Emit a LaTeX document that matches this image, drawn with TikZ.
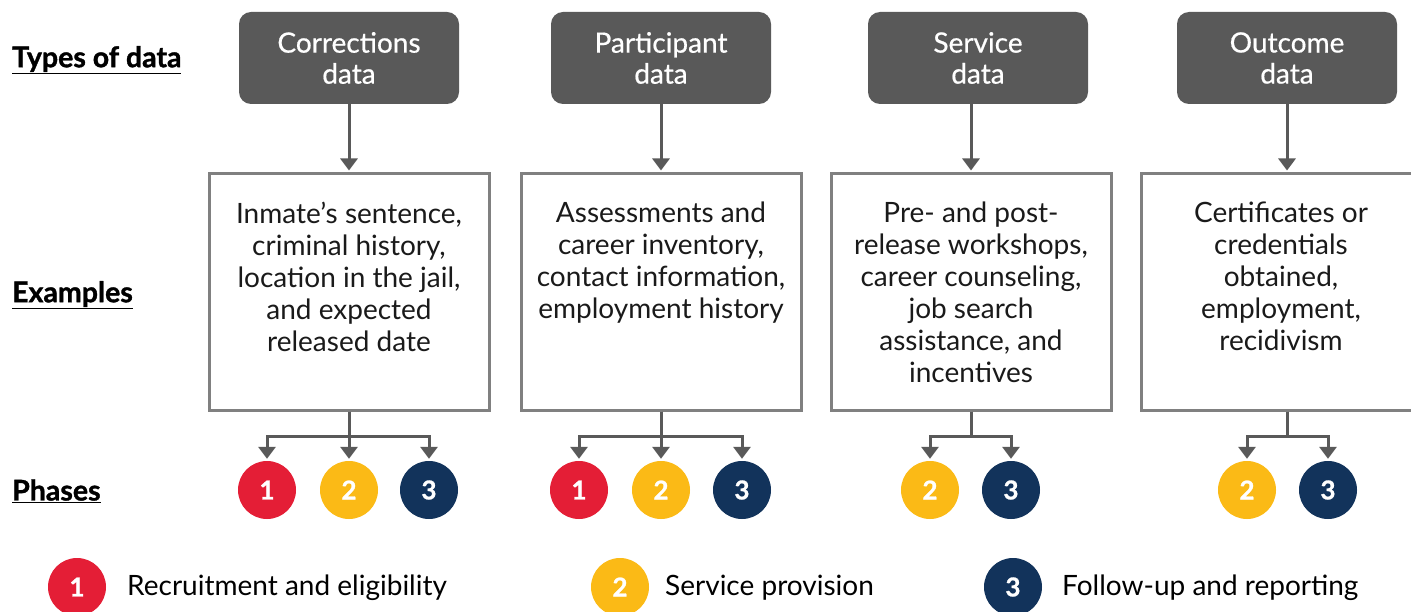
\documentclass[tikz,border=0pt]{standalone}
\usepackage{fontspec}
\setmainfont{Lato}
\newfontfamily\hdrfont[FakeBold=0.6]{Lato}
\newfontfamily\lblfont[FakeBold=1.2]{Lato Bold}
\newfontfamily\numfont[FakeBold=1]{Lato Bold}
\usetikzlibrary{arrows.meta}
\definecolor{hdrgray}{HTML}{595959}
\definecolor{boxgray}{HTML}{808080}
\definecolor{arrgray}{HTML}{595959}
\definecolor{txt}{HTML}{1A1A1A}
\definecolor{pred}{HTML}{E41E36}
\definecolor{pyel}{HTML}{FBBA16}
\definecolor{pnavy}{HTML}{12335B}
\tikzset{
  hdr/.style={rectangle, rounded corners=12pt, fill=hdrgray, text=white, minimum width=220pt, minimum height=92pt, align=center, inner sep=0pt, font=\fontsize{28}{31}\hdrfont},
  exbox/.style={rectangle, draw=boxgray, line width=3pt, minimum width=280pt, minimum height=236pt, inner sep=0pt},
  extext/.style={anchor=north, align=center, inner sep=0pt, text=txt, font=\fontsize{28}{32}\selectfont},
  phase/.style={circle, minimum size=58pt, inner sep=0pt, text=white, font=\fontsize{26}{26}\numfont},
  p1/.style={phase, fill=pred},
  p2/.style={phase, fill=pyel},
  p3/.style={phase, fill=pnavy},
  rowlabel/.style={anchor=west, inner sep=0pt, text=black, font=\fontsize{28.5}{30}\lblfont},
  legtext/.style={anchor=west, inner sep=0pt, text=black, font=\fontsize{28}{30}\selectfont},
  arr/.style={draw=arrgray, line width=3pt, -{Triangle[length=12pt,width=17pt]}, shorten >=2pt},
}
\begin{document}
\begin{tikzpicture}[x=1pt,y=-1pt]
\clip (0,0) rectangle (1411,612);
\fill[white] (0,0) rectangle (1411,612);

% row labels
\node[rowlabel] (lt) at (12,60) {\underline{Types of data}};
\node[rowlabel] (le) at (12,295) {\underline{Examples}};
\node[rowlabel] (lp) at (12,491) {\underline{Phases}};

% headers
\node[hdr] (h1) at (349,58) {Corrections\\data};
\node[hdr] (h2) at (661,58) {Participant\\data};
\node[hdr] (h3) at (978,58) {Service\\data};
\node[hdr] (h4) at (1287,58) {Outcome\\data};

% example boxes
\node[exbox] (b1) at (349,292) {};
\node[exbox] (b2) at (661,292) {};
\node[exbox] (b3) at (971,292) {};
\node[exbox] (b4) at (1281,292) {};

\node[extext] (t1) at (349,202) {Inmate’s sentence,\\criminal history,\\location in the jail,\\and expected\\released date};
\node[extext] (t2) at (661,202) {Assessments and\\career inventory,\\contact information,\\employment history};
\node[extext] (t3) at (971,202) {Pre- and post-\\release workshops,\\career counseling,\\job search\\assistance, and\\incentives};
\node[extext] (t4) at (1281,202) {Certificates or\\credentials\\obtained,\\employment,\\recidivism};

% header -> box arrows
\draw[arr] (h1.south) -- (b1.north);
\draw[arr] (h2.south) -- (b2.north);
\draw[arr] (h3.south -| b3.north) -- (b3.north);
\draw[arr] (h4.south) -- (h4.south |- b4.north);

% phase circles
\node[p1] (c11) at (267,490) {1};
\node[p2] (c12) at (349,490) {2};
\node[p3] (c13) at (429,490) {3};
\node[p1] (c21) at (579,490) {1};
\node[p2] (c22) at (661,490) {2};
\node[p3] (c23) at (742,490) {3};
\node[p2] (c32) at (930,490) {2};
\node[p3] (c33) at (1011,490) {3};
\node[p2] (c42) at (1247,490) {2};
\node[p3] (c43) at (1328,490) {3};

% branches
\draw[arr] (b1.south) -- ++(0,25) -| (c11.north);
\draw[arr] (b1.south) -- (c12.north);
\draw[arr] (b1.south) -- ++(0,25) -| (c13.north);
\draw[arr] (b2.south) -- ++(0,25) -| (c21.north);
\draw[arr] (b2.south) -- (c22.north);
\draw[arr] (b2.south) -- ++(0,25) -| (c23.north);
\draw[arr] (b3.south) -- ++(0,25) -| (c32.north);
\draw[arr] (b3.south) -- ++(0,25) -| (c33.north);
\draw[arr] (h4.south |- b4.south) -- ++(0,25) -| (c42.north);
\draw[arr] (h4.south |- b4.south) -- ++(0,25) -| (c43.north);

% legend
\node[p1] (k1) at (77,587) {1};
\node[legtext] (k1t) at (127,588) {Recruitment and eligibility};
\node[p2] (k2) at (620,587) {2};
\node[legtext] (k2t) at (665,588) {Service provision};
\node[p3] (k3) at (1013,587) {3};
\node[legtext] (k3t) at (1062,588) {Follow-up and reporting};
\end{tikzpicture}
\end{document}
